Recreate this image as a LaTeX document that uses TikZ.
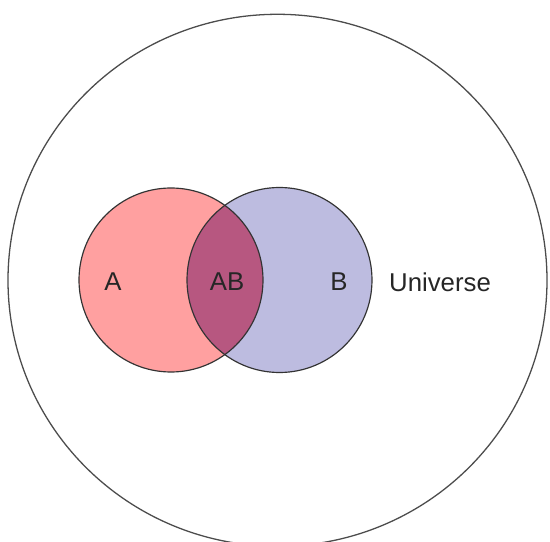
\documentclass[tikz,border=0pt]{standalone}
\usepackage{fontspec}
\setmainfont{Liberation Sans}
\usetikzlibrary{positioning}
\definecolor{setA}{RGB}{255,160,160}
\definecolor{setB}{RGB}{189,188,224}
\definecolor{setAB}{RGB}{183,87,128}
\tikzstyle{outline} = [draw=black!80, line width=1pt]
\tikzstyle{universe} = [draw=black!70, line width=1.1pt]
\tikzstyle{setlabel} = [font=\fontsize{22}{26}\selectfont, text=black!85, inner sep=0pt]

\begin{document}
\begin{tikzpicture}[x=0.03cm, y=-0.03cm]
\useasboundingbox (0,0) rectangle (550,542);
\clip (0,0) rectangle (550,542);

% universe
\draw [universe] (277.5,280.3) ellipse [x radius=269.5, y radius=266];

% the two sets
\fill [setA] (171,280) circle [radius=92];
\fill [setB] (279.5,280) circle [radius=92.5];
\begin{scope}
\clip (171,280) circle [radius=92];
\fill [setAB] (279.5,280) circle [radius=92.5];
\end{scope}
\draw [outline] (171,280) circle [radius=92];
\draw [outline] (279.5,280) circle [radius=92.5];

\node (labA) [setlabel] at (113,282) {A};
\node (labAB) [setlabel] at (227,282) {AB};
\node (labB) [setlabel] at (339,282) {B};
\node (labU) [setlabel] at (440,282) {Universe};

\end{tikzpicture}
\end{document}
